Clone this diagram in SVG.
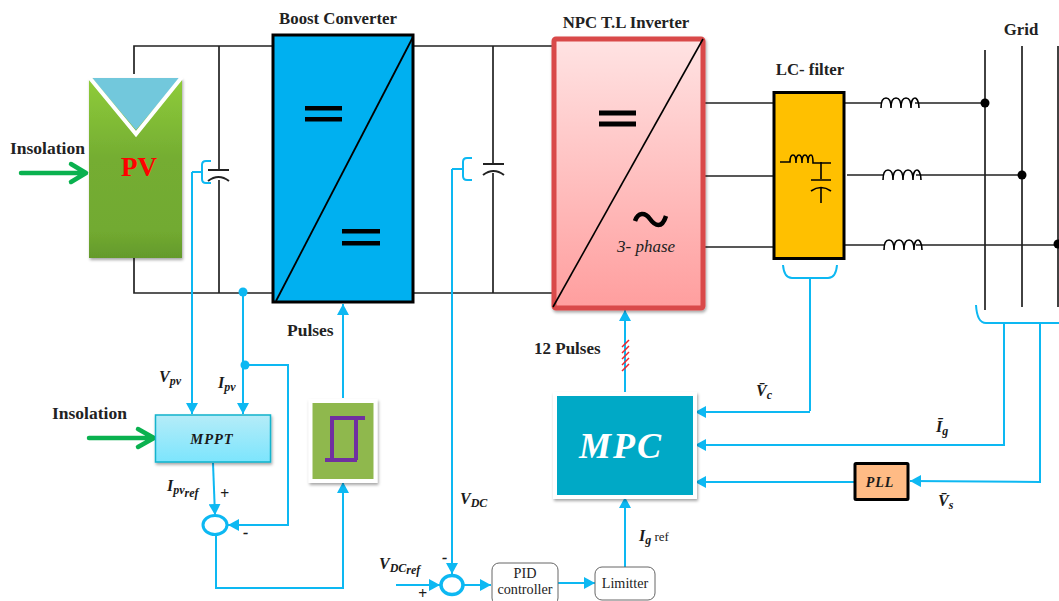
<svg xmlns="http://www.w3.org/2000/svg" width="1059" height="601" viewBox="0 0 1059 601">
<style>
.w{fill:none;stroke:#222;stroke-width:1.7}
.c{fill:none;stroke:#0db8f2;stroke-width:2}
.a{marker-end:url(#ah)}
.g{fill:none;stroke:#0ab14f;stroke-width:4.5;stroke-linejoin:round;stroke-linecap:round}
.k{fill:none;stroke:#000;stroke-width:1.6}
text{font-family:"Liberation Serif",serif;fill:#222}
.l{font-weight:bold;font-size:16.8px}
.m{font-weight:bold;font-style:italic;font-size:16px;fill:#1a1a1a}
.s{font-size:12px;font-weight:bold;font-style:italic}
.t{font-size:14.2px}
.eq{fill:#000}
</style>
<defs>
<marker id="ah" markerUnits="userSpaceOnUse" markerWidth="13" markerHeight="12" refX="11" refY="6" orient="auto"><path d="M0,0L11,6L0,12Z" fill="#0db8f2"/></marker>
<linearGradient id="gPV" x1="0" y1="0" x2="0" y2="1"><stop offset="0" stop-color="#8fcc3a"/><stop offset=".45" stop-color="#74ad32"/><stop offset=".85" stop-color="#72aa30"/><stop offset="1" stop-color="#649a2c"/></linearGradient>
<linearGradient id="gInv" x1="0" y1="0" x2="0" y2="1"><stop offset="0" stop-color="#ffe3e3"/><stop offset="1" stop-color="#ff9e9e"/></linearGradient>
<linearGradient id="gM" x1="0" y1="0" x2="0" y2="1"><stop offset="0" stop-color="#b5ecf8"/><stop offset="1" stop-color="#7ce5fd"/></linearGradient>
<filter id="sh" x="-10%" y="-10%" width="125%" height="125%"><feDropShadow dx="1" dy="2" stdDeviation="1.6" flood-color="#000" flood-opacity=".35"/></filter>
</defs>

<g id="connectors">
<path class="w" d="M134,74V46H272M134,258V293H272M219,46V170M219,180V293"/>
<path class="w" d="M413,46H552M413,293H552M493,46V163M493,173V293"/>
<path class="w" d="M703,103H774M703,176H774M703,247H774"/>
<path class="w" d="M845,103H881M915,103H985M847,175H883M916,175H1022M845,245H884M916,245H1059"/>
<path class="w" d="M985,50V310M1022,46V307M1058,46V307"/>
<circle cx="985" cy="103" r="4.5" fill="#000"/><circle cx="1022" cy="175" r="4.5" fill="#000"/><circle cx="1058" cy="244" r="4.5" fill="#000"/>
<path class="k" d="M881,108c0-9 3-10 5-10s5,2 5,10c0-9 3-10 5-10s5,2 5,10c0-9 3-10 5-10s5,2 5,10c0-9 3-10 4-10s4,2 4,10"/>
<path class="k" d="M883,180c0-9 3-10 5-10s5,2 5,10c0-9 3-10 5-10s5,2 5,10c0-9 3-10 5-10s5,2 5,10c0-9 3-10 4-10s4,2 4,10"/>
<path class="k" d="M884,250c0-9 3-10 5-10s5,2 5,10c0-9 3-10 5-10s5,2 5,10c0-9 3-10 5-10s5,2 5,10c0-9 3-10 4-10s4,2 4,10"/>
<path d="M208,170H229M483,164H504" stroke="#222" stroke-width="2" fill="none"/>
<path d="M208,181q10.500,-8 21,0M483,175q10.500,-8 21,0" stroke="#222" stroke-width="2" fill="none"/>
<path class="c" d="M211,161H206Q202,161 202,165V179Q202,183 206,183H211M202,172H192"/>
<path class="c a" d="M192,172V414"/>
<path class="c" d="M472,158H467Q463,158 463,162V176Q463,180 467,180H472M463,169H452"/>
<path class="c a" d="M452,169V574"/>
<circle cx="243" cy="292" r="4.500" fill="#0db8f2"/>
<path class="c a" d="M243,292V414"/>
<circle cx="245" cy="365" r="4.500" fill="#0db8f2"/>
<path class="c a" d="M245,365H288V525H228"/>
<path class="c a" d="M213,463L215,515"/>
<path class="c a" d="M216,535V588H343V482"/>
<path class="c a" d="M343,398V304"/>
<path class="c a" d="M625,395V310"/>
<path d="M622,347L629,340M622,353L629,346M622,359L629,352M622,365L629,358M622,371L629,364" stroke="#f0262e" stroke-width="1.500" fill="none"/>
<path class="c" d="M783,265Q784,278 792,278H828Q836,278 837,265M810,278V411"/>
<path class="c a" d="M810,412H695"/>
<path class="c" d="M976,305Q977,323 986,323H1059"/>
<path class="c a" d="M1004,323V445H695"/>
<path class="c a" d="M1040,323V482L910,481"/>
<path class="c a" d="M854,482H695"/>
<path class="c a" d="M396,585H440"/>
<path class="c a" d="M464,585H491"/>
<path class="c a" d="M558,583H595"/>
<path class="c a" d="M625,567V497"/>
<path class="g" d="M21,173H85M71,164L86,173L71,182"/>
<path class="g" d="M89,438H153M138,429L154,438L138,447"/>
</g>

<g id="pv">
<rect x="89" y="78" width="93" height="180" fill="url(#gPV)" filter="url(#sh)"/>
<path d="M92,78H180L136,130Z" fill="#72c8dc"/>
<path d="M89,77L136,134L182,77" fill="none" stroke="#fff" stroke-width="4"/>
<text x="139" y="176" text-anchor="middle" font-size="27" font-weight="bold" style="fill:#f00">PV</text>
</g>
<g id="insolation-1"><text class="l" x="10" y="154" style="font-size:17.500px">Insolation</text></g>

<g id="boost">
<text class="l" x="338" y="24" text-anchor="middle">Boost Converter</text>
<rect x="273" y="35" width="140" height="267" fill="#00b0f0" stroke="#000" stroke-width="3"/>
<path d="M276,301L413,37" stroke="#000" stroke-width="1.800" fill="none"/>
<rect class="eq" x="305" y="106" width="37" height="4.500"/><rect class="eq" x="305" y="117" width="37" height="4.500"/>
<rect class="eq" x="342" y="229" width="38" height="4.500"/><rect class="eq" x="342" y="241" width="38" height="4.500"/>
</g>

<g id="inverter">
<text class="l" x="626" y="28" text-anchor="middle">NPC T.L Inverter</text>
<rect x="554" y="39" width="149" height="269" rx="2" fill="url(#gInv)" stroke="#d94848" stroke-width="5" filter="url(#sh)"/>
<path d="M553,307L703,39" stroke="#000" stroke-width="1.600" fill="none"/>
<rect class="eq" x="599" y="110.500" width="37" height="5"/><rect class="eq" x="599" y="121.500" width="37" height="5"/>
<path d="M635,221c3,-9 10,-9 15,-2s12,10 16,-3" fill="none" stroke="#000" stroke-width="4.500"/>
<text x="617" y="252" font-size="17" font-style="italic">3- phase</text>
</g>

<g id="lc-filter">
<text class="l" x="810" y="75" text-anchor="middle">LC- filter</text>
<rect x="774" y="92.500" width="70" height="166" fill="#ffc000" stroke="#000" stroke-width="3"/>
<path class="k" d="M780,162H790c0-7 2-7 3-7s3,1 3,8c0-8 2-8 3,-8s3,1 3,8c0-8 2-8 3,-8s3,1 3,8c0-8 2-8 3,-8s2,1 2,8H831M821,162V179M811,180H831M811,191q10,-7 20,0M821,187V203"/>
</g>

<g id="grid-label"><text class="l" x="1021" y="35" text-anchor="middle">Grid</text></g>

<g id="mppt">
<rect x="155.500" y="415" width="115" height="47" fill="url(#gM)" stroke="#12b3cc" stroke-width="1.500" filter="url(#sh)"/>
<text x="212" y="444" text-anchor="middle" class="m" style="font-size:14.500px;letter-spacing:1px">MPPT</text>
</g>
<g id="insolation-2"><text class="l" x="52" y="419" style="font-size:17.500px">Insolation</text></g>

<g id="sum-1"><ellipse cx="215" cy="525" rx="12" ry="9.500" fill="#fff" stroke="#0db8f2" stroke-width="3"/></g>
<g id="sum-2"><ellipse cx="452" cy="585" rx="11" ry="9.500" fill="#fff" stroke="#0db8f2" stroke-width="3.500"/></g>

<g id="hysteresis">
<rect x="310.500" y="401" width="65" height="80" fill="#8fb84e" stroke="#fff" stroke-width="4" filter="url(#sh)"/>
<path d="M325,460H357M332,460V418H365M356,418V460" fill="none" stroke="#7030a0" stroke-width="4"/>
</g>

<g id="mpc">
<rect x="555" y="394" width="140" height="103" fill="#00a9c6" stroke="#fff" stroke-width="4" filter="url(#sh)"/>
<text x="621" y="458" text-anchor="middle" font-size="36" font-weight="bold" font-style="italic" letter-spacing="2" style="fill:#fff">MPC</text>
</g>

<g id="pll">
<rect x="855" y="463.500" width="53" height="36" rx="1" fill="#ffbb85" stroke="#000" stroke-width="3"/>
<text x="880" y="487" text-anchor="middle" class="m" style="font-size:14px;letter-spacing:1px">PLL</text>
</g>

<g id="pid">
<rect x="492" y="563" width="66" height="42" rx="7" fill="#fff" stroke="#666" stroke-width="1"/>
<text x="525" y="578" text-anchor="middle" class="t">PID</text>
<text x="525" y="594" text-anchor="middle" class="t">controller</text>
</g>
<g id="limitter">
<rect x="595" y="567" width="60" height="33" rx="7" fill="#fff" stroke="#666" stroke-width="1"/>
<text x="625" y="588" text-anchor="middle" class="t">Limitter</text>
</g>

<g id="labels">
<text class="l" x="287" y="336" style="font-size:17.500px">Pulses</text>
<text class="l" x="534" y="354" style="font-size:17px">12 Pulses</text>
<text class="m" x="159" y="382">V<tspan class="s" dy="3">pv</tspan></text>
<text class="m" x="218" y="388">I<tspan class="s" dy="3">pv</tspan></text>
<text class="m" x="167" y="491">I<tspan class="s" dy="3">pv</tspan><tspan class="s" dy="3">ref</tspan></text>
<text class="m" x="220" y="499">+</text>
<text class="m" x="243" y="538">-</text>
<text class="m" x="460" y="504">V<tspan class="s" dy="3">DC</tspan></text>
<text class="m" x="379" y="569">V<tspan class="s" dy="3">DC</tspan><tspan class="s" dy="2">ref</tspan></text>
<text class="m" x="442" y="563">-</text>
<text class="m" x="418" y="599">+</text>
<text x="639" y="541" class="m">I<tspan class="s" dy="3">g</tspan><tspan dy="-3" font-size="13" font-weight="normal" font-style="normal"> ref</tspan></text>
<text class="m" x="756" y="396">V̄<tspan class="s" dy="3">c</tspan></text>
<text class="m" x="936" y="432">Ī<tspan class="s" dy="3">g</tspan></text>
<text class="m" x="938" y="506">V̄<tspan class="s" dy="3">s</tspan></text>
</g>
</svg>
